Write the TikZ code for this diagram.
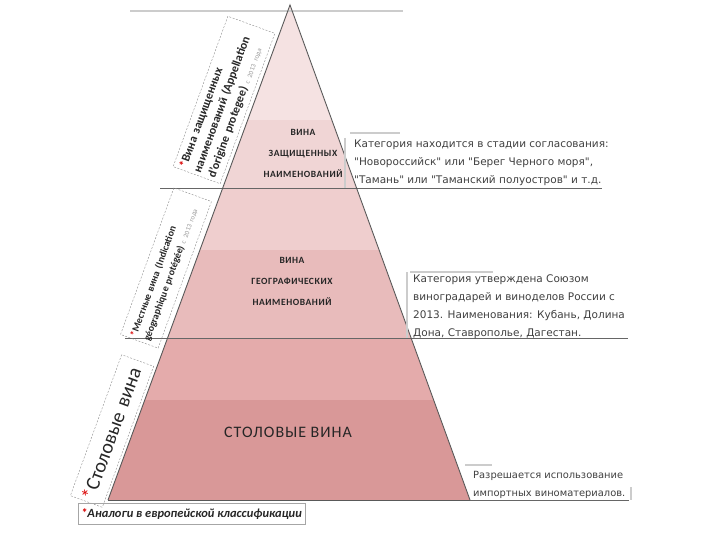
\documentclass[tikz,border=0pt]{standalone}
\usepackage{fontspec}
\setmainfont{Carlito}
\newfontfamily\capsfont[LetterSpace=6]{Carlito}
\newfontfamily\notefont{DejaVu Sans}
\usetikzlibrary{calc}
\definecolor{bandA}{HTML}{F5E2E2}
\definecolor{bandB}{HTML}{F0D5D5}
\definecolor{bandC}{HTML}{EFCECE}
\definecolor{bandD}{HTML}{E8BBBB}
\definecolor{bandE}{HTML}{E4ABAB}
\definecolor{bandF}{HTML}{D99898}
\colorlet{myline}{black!60}
\colorlet{mylight}{black!20}
\colorlet{mytext}{black!75}
\colorlet{mystar}{red!85!black}
\tikzset{
  edge/.style={draw=black!65,line width=0.9},
  sepline/.style={draw=myline,line width=0.9},
  lightline/.style={draw=mylight,line width=1.2},
  sidebox/.style={draw=black!45,dash pattern=on 2pt off 1.5pt,rotate=70,inner sep=3,align=left,text=black!85},
  tierlabel/.style={align=center,text=black!85,font=\capsfont\bfseries\fontsize{9.5}{21}\selectfont},
  notetext/.style={anchor=west,align=left,inner sep=0,text=mytext,font=\notefont\fontsize{10.5}{18}\selectfont},
  footbox/.style={draw=black!35,anchor=west,inner sep=3,minimum height=21,font=\bfseries\itshape\fontsize{12.5}{14}\selectfont,text=black!85}
}
\newcommand{\st}{{\color{mystar}*}}
\newcommand{\yr}{{\color{black!40}\mdseries\fontsize{6.8}{13}\selectfont с 2013 года}}

\begin{document}
\begin{tikzpicture}[x=1pt,y=-1pt]
  \useasboundingbox (0,0) rectangle (720,540);
  \coordinate (apex) at (290,5);
  \coordinate (bl) at (108,500);
  \coordinate (br) at (470,500);

  % PYRAMID BANDS
  \begin{scope}
    \clip (apex) -- (bl) -- (br) -- cycle;
    \foreach \ya/\yb/\col in {0/120/bandA,120/188/bandB,188/250/bandC,250/338/bandD,338/400/bandE,400/500/bandF}{
      \fill[\col] (100,\ya) rectangle (480,\yb);
    }
  \end{scope}

  % LINES
  \draw[lightline] (130,11) -- (403,11);
  \draw[sepline] (160,188) -- (602,188);
  \draw[sepline] (125,338) -- (628,338);
  \draw[edge] (bl) -- (br);
  \draw[edge] (bl) -- (apex) -- (br);

  % TIER LABELS
  \node[tierlabel] (top) at (303,153) {ВИНА\\ЗАЩИЩЕННЫХ\\НАИМЕНОВАНИЙ};
  \node[tierlabel] (mid) at (292,281) {ВИНА\\ГЕОГРАФИЧЕСКИХ\\НАИМЕНОВАНИЙ};
  \node[text=black!85,font=\capsfont\fontsize{16}{18}\selectfont] (low) at (288,432) {СТОЛОВЫЕ ВИНА};

  % SIDE BOXES
  \node[sidebox,minimum width=160,minimum height=50,text width=154,font=\bfseries\fontsize{12}{15}\selectfont]
    (side1) at (224,100) {\st Вина защищенных\\наименований (Appellation\\d'origine protegee) \yr};
  \node[sidebox,minimum width=152,minimum height=40,text width=150,font=\bfseries\fontsize{10}{14}\selectfont]
    (side2) at (166,268) {\st Местные вина (Indication\\géographique protégée) \yr};
  \node[sidebox,minimum width=150,minimum height=34,text width=144,font=\fontsize{20}{22}\selectfont]
    (side3) at (112,431) {\st Столовые вина};

  % NOTES
  \node[notetext] (note1) at (354,163) {Категория находится в стадии согласования:\\"Новороссийск" или "Берег Черного моря",\\"Тамань" или "Таманский полуостров" и т.д.};
  \draw[lightline] (345,138) -- (345,188);
  \draw[lightline] (350,133) -- (400,133);

  \node[notetext] (note2) at (413,307) {Категория утверждена Союзом\\виноградарей и виноделов России с\\2013. Наименования: Кубань, Долина\\Дона, Ставрополье, Дагестан.};
  \draw[lightline] (407,272) -- (407,338);
  \draw[lightline] (410,272) -- (493,272);

  \node[notetext,font=\notefont\fontsize{9.9}{18}\selectfont] (note3) at (473,485) {Разрешается использование\\импортных виноматериалов.};
  \draw[sepline] (470,500) -- (629,500);
  \draw[lightline] (465,465) -- (492,465);
  \draw[lightline] (631,487) -- (631,500);

  % FOOTNOTE
  \node[footbox] (foot) at (78,514) {\st Аналоги в европейской классификации};
\end{tikzpicture}
\end{document}
